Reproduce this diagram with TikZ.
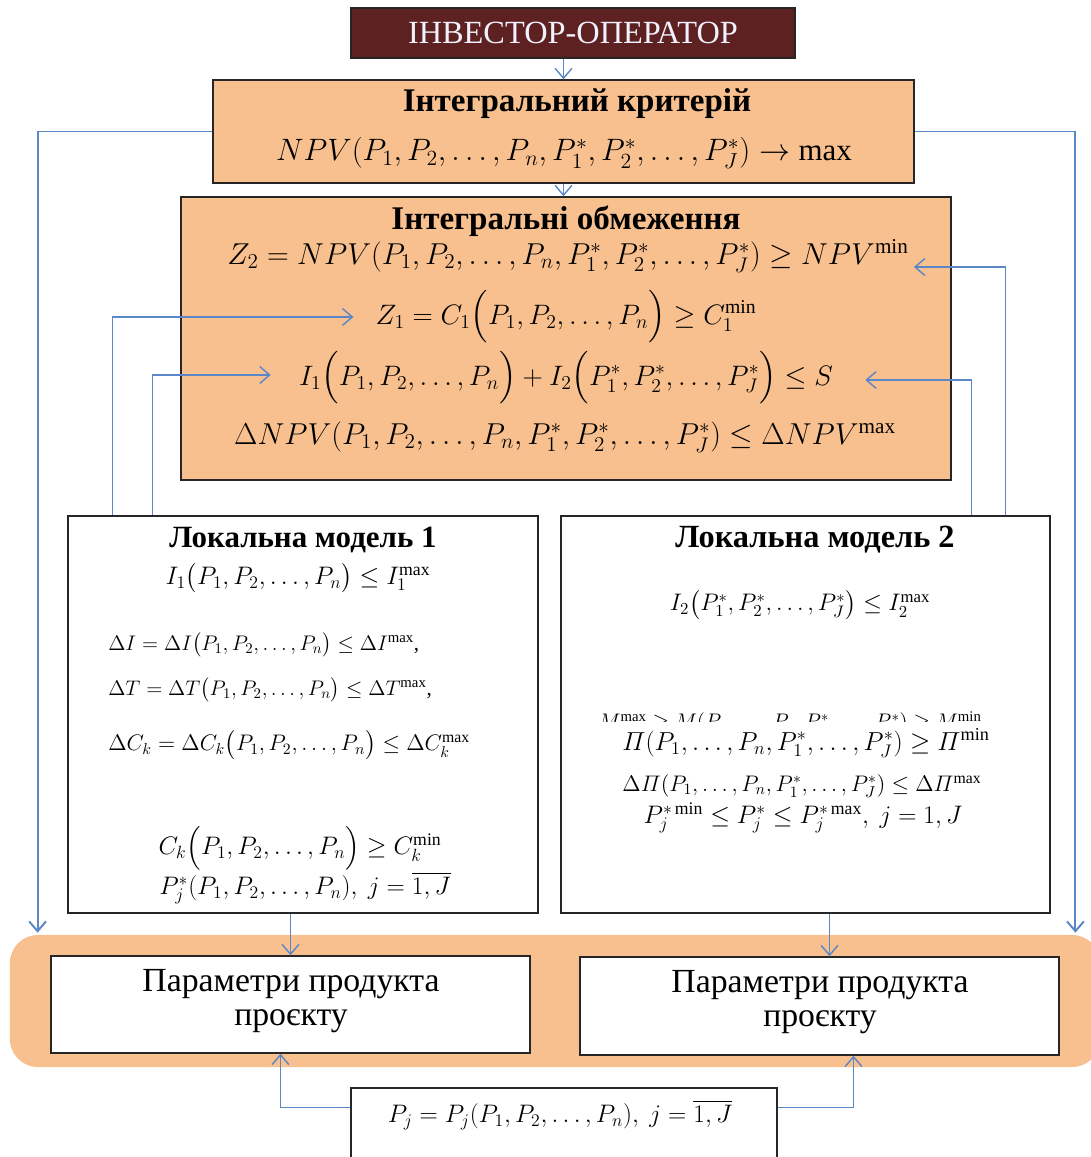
\RequirePackage{fix-cm}
\documentclass[tikz,border=0pt]{standalone}
\usepackage{amsmath}
\usepackage{fontspec}
\setmainfont{Liberation Serif}
\usepackage{tikz}
\usetikzlibrary{arrows.meta,positioning,calc}

\definecolor{peach}{HTML}{F8C08E}
\definecolor{maroon}{HTML}{5E2121}
\definecolor{linkblue}{HTML}{5B87C6}
\newcommand{\fsz}[2]{\fontsize{#1}{#2}\selectfont}
\newcommand{\plist}{P_1, P_2, \ldots, P_n}
\newcommand{\pstarlist}{P_1^*, P_2^*, \ldots, P_J^*}

\begin{document}
\begin{tikzpicture}[
    x=0.025cm, y=-0.025cm,
    box/.style={rectangle, draw=black!85, line width=1pt, inner sep=0pt},
    peachbox/.style={box, fill=peach},
    modelbox/.style={box, fill=white},
    ttl/.style={inner sep=0pt, font=\fsz{23.5}{26}\bfseries},
    mttl/.style={inner sep=0pt, font=\fsz{22}{26}\bfseries},
    frm/.style={inner sep=0pt, font=\fsz{21.5}{24}},
    lfrm/.style={inner sep=0pt, font=\fsz{15}{18}},
    bfrm/.style={inner sep=0pt, font=\fsz{18}{21}},
    ptxt/.style={inner sep=0pt, align=center, font=\fsz{24}{24}},
    link/.style={draw=linkblue, line width=1pt, -{Straight Barb[length=7pt,width=12pt]}}
]
\useasboundingbox (0,0) rectangle (1091,1157);

% --- BACKGROUND BAND ---
\node (band) [fill=peach, rounded corners=0.7cm, minimum width=27.25cm, minimum height=3.3cm] at (555,1001) {};

% --- TOP ---
\node (invest) [box, fill=maroon, text=white!95!blue, minimum width=11.1cm, minimum height=1.25cm,
    font=\fsz{23}{26}] at (573,33) {ІНВЕСТОР-ОПЕРАТОР};
\node (crit) [peachbox, minimum width=17.525cm, minimum height=2.575cm] at (563.5,131.5) {};
\node (critT) [ttl] at (577,104) {Інтегральний критерій};
\node (critF) [frm, font=\fsz{22}{24}] at (564,153) {$NPV(\plist, \pstarlist) \to \max$};

% --- INTEGRAL CONSTRAINTS ---
\node (cons) [peachbox, minimum width=19.25cm, minimum height=7.075cm] at (566,338.5) {};
\node (consT) [ttl] at (566,221) {Інтегральні обмеження};
\node (z2) [frm] at (568,256) {$Z_2 = NPV(\plist, \pstarlist) \ge NPV^{\min}$};
\node (z1) [frm, font=\fsz{20}{24}] at (566,317) {$Z_1 = C_1\Big(\plist\Big) \ge C_1^{\min}$};
\node (ineq) [frm, font=\fsz{20}{24}] at (566,378) {$I_1\Big(\plist\Big) + I_2\Big(\pstarlist\Big) \le S$};
\node (dnpv) [frm] at (565,437) {$\Delta NPV(\plist, \pstarlist) \le \Delta NPV^{\max}$};

% --- LOCAL MODELS ---
\node (lm1) [modelbox, minimum width=11.75cm, minimum height=9.925cm] at (303,714.5) {};
\node (lm1T) [mttl] at (303,540) {Локальна модель 1};
\node (a1) [bfrm] at (298,578) {$I_1\big(\plist\big) \le I_1^{\max}$};
\node (a2) [lfrm, anchor=west] at (108,645) {$\Delta I = \Delta I\big(\plist\big) \le \Delta I^{\max}$,};
\node (a3) [lfrm, anchor=west] at (108,690) {$\Delta T = \Delta T\big(\plist\big) \le \Delta T^{\max}$,};
\node (a4) [lfrm, font=\fsz{16}{19}, anchor=west] at (108,745) {$\Delta C_k = \Delta C_k\big(\plist\big) \le \Delta C_k^{\max}$};
\node (a5) [bfrm] at (300,848) {$C_k\Big(\plist\Big) \ge C_k^{\min}$};
\node (a6) [bfrm] at (305,888) {$P_j^*(\plist),\ j = \overline{1,J}$};

\node (lm2) [modelbox, minimum width=12.225cm, minimum height=9.925cm] at (805.5,714.5) {};
\node (lm2T) [mttl, font=\fsz{23}{26}\bfseries] at (815,540) {Локальна модель 2};
\node (b1) [lfrm, font=\fsz{17}{20}] at (800,605) {$I_2\big(\pstarlist\big) \le I_2^{\max}$};
\begin{scope}
  \clip (580,700) rectangle (1040,721);
  \node (b2) [lfrm] at (790,723) {$M^{\max} \ge M(P_1, \ldots, P_n, P_1^*, \ldots, P_J^*) \ge M^{\min}$};
\end{scope}
\node (b3) [bfrm, font=\fsz{18.5}{21}] at (806,743) {$\varPi(P_1, \ldots, P_n, P_1^*, \ldots, P_J^*) \ge \varPi^{\min}$};
\node (b4) [lfrm, font=\fsz{16}{19}] at (802,786) {$\Delta\varPi(P_1, \ldots, P_n, P_1^*, \ldots, P_J^*) \le \Delta\varPi^{\max}$};
\node (b5) [bfrm] at (803,818) {$P_j^{*\min} \le P_j^* \le P_j^{*\max},\ j = 1, J$};

% --- PRODUCT PARAMETERS ---
\node (par1) [modelbox, minimum width=11.975cm, minimum height=2.425cm] at (290.5,1004.5) {};
\node (par1T) [ptxt] at (291,1001) {Параметри продукта\\проєкту};
\node (par2) [modelbox, minimum width=11.975cm, minimum height=2.45cm] at (819.5,1006) {};
\node (par2T) [ptxt] at (820,1002) {Параметри продукта\\проєкту};

\node (bot) [modelbox, minimum width=10.65cm, minimum height=2.3cm] at (564,1134) {};
\node (botF) [bfrm] at (560,1115) {$P_j = P_j(\plist),\ j = \overline{1,J}$};

% --- PATHS ---
\draw [link] (invest.south -| crit.north) -- (crit.north);
\draw [link] (crit.south) -- (crit.south |- cons.north);

% long side lines
\draw [link, line width=1.4pt] (crit.west) -| ($(band.north west)+(28,-2)$);
\draw [link, line width=1.4pt] (crit.east) -| ($(band.north east)+(-25,-2)$);

% feedback from local models
\draw [link] ($(lm1.north west)+(45,0)$) |- ($(z1.west)+(-22,0)$);
\draw [link] ($(lm1.north west)+(85,0)$) |- ($(ineq.west)+(-28,-3)$);
\draw [link] ($(lm2.north west)+(445,0)$) |- ($(z2.east)+(5,11)$);
\draw [link] ($(lm2.north west)+(411,0)$) |- ($(ineq.east)+(32,2)$);

% into product parameters
\draw [link] (lm1.south -| par1.north) -- (par1.north);
\draw [link] ($(lm2.south -| par2.north)+(10,0)$) -- ($(par2.north)+(10,0)$);
\draw [link] ($(bot.north west)+(0,20)$) -| ($(par1.south)+(-10,0)$);
\draw [link] ($(bot.north east)+(0,20)$) -| ($(par2.south)+(34,0)$);

\end{tikzpicture}
\end{document}
